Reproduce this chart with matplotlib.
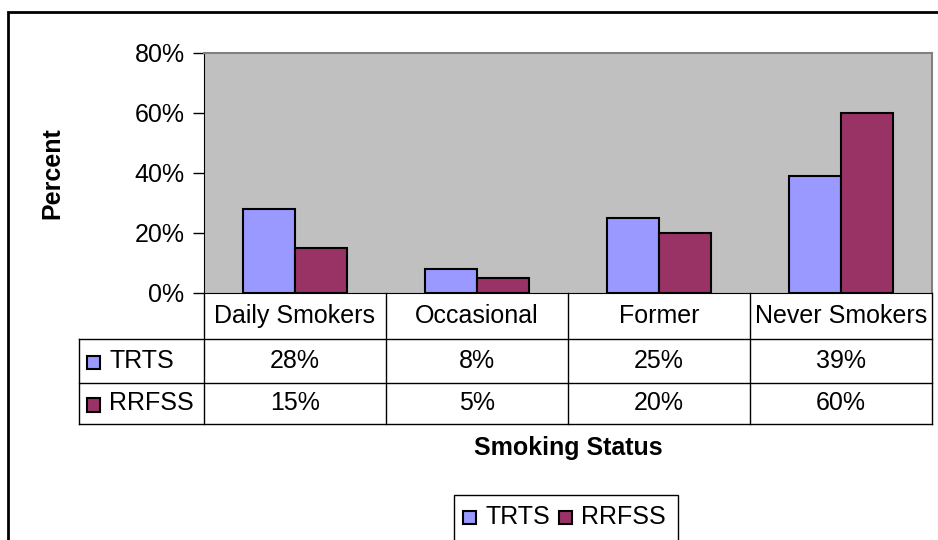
import matplotlib

matplotlib.use("Agg")
import matplotlib.pyplot as plt
from matplotlib.lines import Line2D
from matplotlib.patches import Rectangle

categories = ["Daily Smokers", "Occasional", "Former", "Never Smokers"]
series_names = ["TRTS", "RRFSS"]
trts = [28, 8, 25, 39]
rrfss = [15, 5, 20, 60]
y_ticks = [0, 20, 40, 60, 80]

colors = ["#9999FF", "#993366"]
W, H = 938, 540

plt.rcParams["font.family"] = ["Liberation Sans", "DejaVu Sans"]
fig = plt.figure(figsize=(W / 100, H / 100), dpi=100)


def fx(px):
    return px / W


def fy(py):
    return 1 - py / H


def hline(y, x0, x1, color="black", lw=1.0):
    fig.add_artist(Line2D([fx(x0), fx(x1)], [fy(y), fy(y)], color=color, lw=lw,
                          transform=fig.transFigure))


def vline(x, y0, y1, color="black", lw=1.0):
    fig.add_artist(Line2D([fx(x), fx(x)], [fy(y0), fy(y1)], color=color, lw=lw,
                          transform=fig.transFigure))


# outer chart border (cut at the right and bottom edges)
fig.add_artist(Rectangle((fx(8), fy(H + 10)), fx(W + 10), fy(12) - fy(H + 10),
                         fill=False, ec="black", lw=2, transform=fig.transFigure))

# plot area
left, top, right, bottom = 204, 53, 932, 293
ax = fig.add_axes([fx(left), fy(bottom), fx(right - left), fy(top) - fy(bottom)])
ax.set_facecolor("#C0C0C0")
n = len(categories)
xs = list(range(n))
bw = 0.285
ax.bar([x - bw / 2 for x in xs], trts, bw, color=colors[0], ec="black", lw=1.5,
       zorder=3)
ax.bar([x + bw / 2 for x in xs], rrfss, bw, color=colors[1], ec="black", lw=1.5,
       zorder=3)
ax.set_xlim(-0.5, n - 0.5)
ax.set_ylim(0, 80)
ax.set_yticks(y_ticks)
ax.set_yticklabels([f"{v}%" for v in y_ticks], fontsize=18)
ax.tick_params(axis="y", direction="out", length=8, width=1, pad=6)
ax.set_xticks([])
for s in ["top", "right"]:
    ax.spines[s].set_color("#808080")
    ax.spines[s].set_linewidth(1.5)
ax.spines["left"].set_color("black")
ax.spines["bottom"].set_color("black")

# y axis title, placed like the original
fig.text(fx(52), fy((top + bottom) / 2), "Percent", rotation=90, ha="center",
         va="center", fontsize=18, fontweight="bold")

# data table under the axis
col_w = (right - left) / n
rows_y = [bottom, 339, 383, 424]
label_left = 79
hline(rows_y[1], label_left, right)
hline(rows_y[2], label_left, right)
hline(rows_y[3], label_left, right)
vline(label_left, rows_y[1], rows_y[3])
for i in range(n + 1):
    vline(left + i * col_w, bottom, rows_y[3])

for i, cat in enumerate(categories):
    cx = left + (i + 0.5) * col_w
    fig.text(fx(cx), fy((rows_y[0] + rows_y[1]) / 2), cat, ha="center",
             va="center", fontsize=18)
    for r, vals in enumerate([trts, rrfss]):
        fig.text(fx(cx), fy((rows_y[r + 1] + rows_y[r + 2]) / 2), f"{vals[i]}%",
                 ha="center", va="center", fontsize=18)

for r, name in enumerate(series_names):
    cy = (rows_y[r + 1] + rows_y[r + 2]) / 2
    fig.add_artist(Rectangle((fx(87), fy(cy + 8)), fx(13), fy(cy - 5) - fy(cy + 8),
                             fc=colors[r], ec="black", lw=1.5,
                             transform=fig.transFigure))
    fig.text(fx(109), fy(cy), name, ha="left", va="center", fontsize=18)

# x axis title
fig.text(fx((left + right) / 2), fy(448), "Smoking Status", ha="center",
         va="center", fontsize=18, fontweight="bold")

# legend box
fig.add_artist(Rectangle((fx(454), fy(H + 5)), fx(678 - 454), fy(495) - fy(H + 5),
                         fill=False, ec="black", lw=1, transform=fig.transFigure))
leg_y = 517
for name, c, px in zip(series_names, colors, [463, 559]):
    fig.add_artist(Rectangle((fx(px), fy(leg_y + 7)), fx(13),
                             fy(leg_y - 6) - fy(leg_y + 7), fc=c, ec="black",
                             lw=1.5, transform=fig.transFigure))
    fig.text(fx(px + 22), fy(leg_y), name, ha="left", va="center", fontsize=18)

fig.savefig("out.png", dpi=100)
